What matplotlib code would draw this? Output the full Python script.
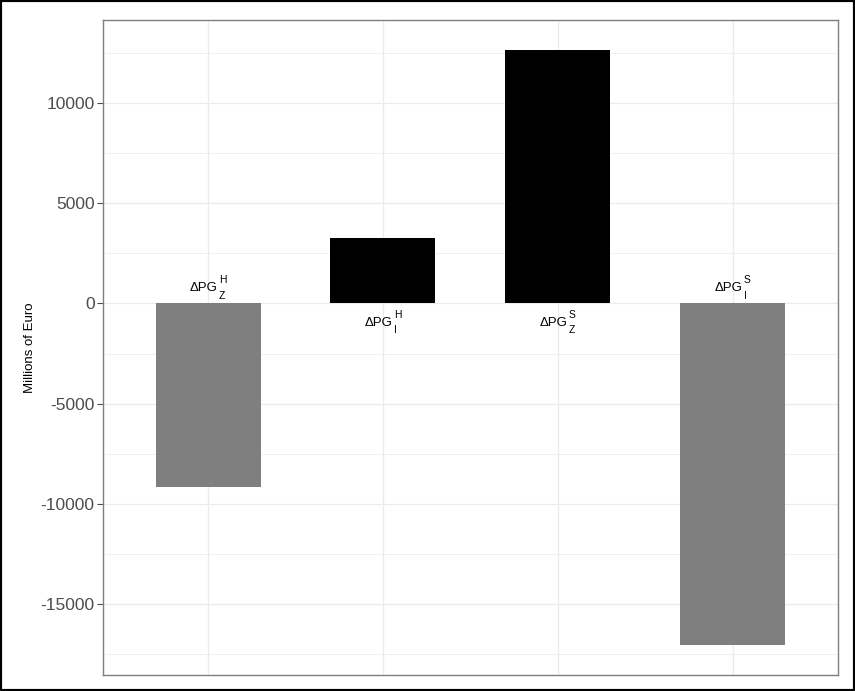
import matplotlib.pyplot as plt
from matplotlib.patches import Rectangle
from matplotlib.ticker import MultipleLocator

plt.rcParams['font.family'] = ['Liberation Sans', 'DejaVu Sans']
plt.rcParams['axes.unicode_minus'] = False

# Change in producer gains by component (millions of euro)
sups = ['H', 'H', 'S', 'S']
subs = ['Z', 'I', 'Z', 'I']
values = [-9150, 3250, 12650, -17050]

fig = plt.figure(figsize=(8.55, 6.91), dpi=100)
ax = fig.add_axes([0.1205, 0.0232, 0.8595, 0.9478])

pos = list(range(1, len(values) + 1))
colors = ['black' if v > 0 else '#7f7f7f' for v in values]
ax.bar(pos, values, width=0.6, color=colors, zorder=2)


def put_label(x, above, sup, sub):
    # "ΔPG" with stacked super/subscript, offsets in pixels from (x, 0)
    if above:
        base, sup_base, sub_base = 12, 20, 4
    else:
        base, sup_base, sub_base = -23, -15, -30
    kw = dict(xycoords='data', textcoords='offset pixels', va='baseline', zorder=3)
    ax.annotate('ΔPG', (x, 0), xytext=(9.5, base), ha='right', fontsize=9.5, **kw)
    ax.annotate(sup, (x, 0), xytext=(11, sup_base), ha='left', fontsize=7.5, **kw)
    ax.annotate(sub, (x, 0), xytext=(11, sub_base), ha='left', fontsize=7.5, **kw)


for x, v, sp, sb in zip(pos, values, sups, subs):
    put_label(x, v < 0, sp, sb)

lo, hi = min(values), max(values)
pad = (hi - lo) * 0.05
ax.set_ylim(lo - pad, hi + pad)
ax.set_xlim(0.4, 4.6)

ax.yaxis.set_major_locator(MultipleLocator(5000))
ax.yaxis.set_minor_locator(MultipleLocator(2500))
ax.set_xticks(pos)
ax.set_xticklabels([])
ax.tick_params(axis='x', length=0)
ax.tick_params(axis='y', which='major', length=4, width=0.8, color='#4d4d4d',
               labelsize=12.5, labelcolor='#4d4d4d', pad=2)
ax.tick_params(axis='y', which='minor', length=0)

ax.grid(True, which='major', color='#ebebeb', linewidth=0.9, zorder=0)
ax.grid(True, which='minor', axis='y', color='#ebebeb', linewidth=0.5, zorder=0)
ax.set_axisbelow(True)

for s in ax.spines.values():
    s.set_color('#7f7f7f')
    s.set_linewidth(1.0)

ax.set_ylabel('Millions of Euro', fontsize=9.5)
ax.yaxis.set_label_coords(-0.091, 0.5)

# frame around the whole figure
fig.patches.append(Rectangle((0, 0), 1, 1, transform=fig.transFigure,
                             fill=False, edgecolor='black', linewidth=3))

fig.savefig('out.png', dpi=100)
